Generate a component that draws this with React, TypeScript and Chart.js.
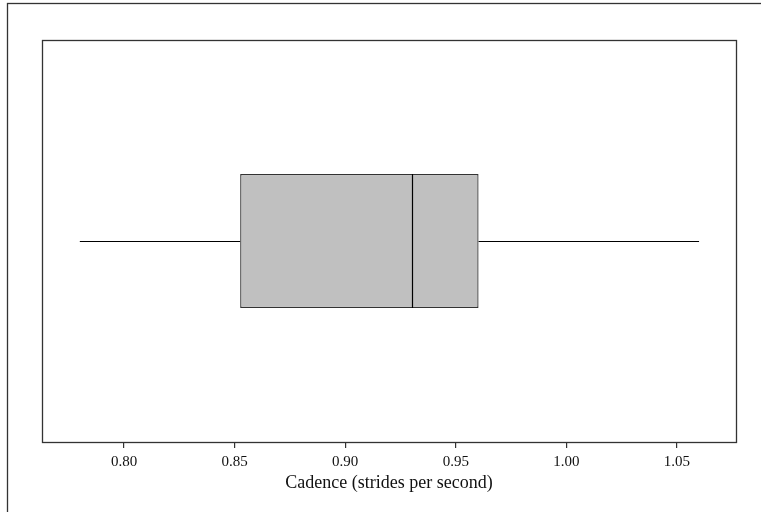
import { useEffect, useRef } from "react";
import { Chart, registerables } from "chart.js";

Chart.register(...registerables);

const categories = ["Cadence"];
const whiskerMin = [0.78];
const q1 = [0.8525];
const median = [0.93];
const q3 = [0.9603];
const whiskerMax = [1.06];
const tickValues = [0.8, 0.85, 0.9, 0.95, 1.0, 1.05];
const axisMin = 0.7629;
const axisMax = 1.0767;
const axisTitle = "Cadence (strides per second)";

const FONT = "'Liberation Serif', 'Times New Roman', serif";

const boxExtras = {
  id: "boxExtras",
  beforeDraw(chart: any) {
    const ctx = chart.ctx;
    ctx.save();
    ctx.strokeStyle = "#333";
    ctx.lineWidth = 1.3;
    ctx.strokeRect(7.5, 3.5, 800, 600);
    ctx.restore();
  },
  afterDatasetsDraw(chart: any) {
    const ctx = chart.ctx;
    const xs = chart.scales.x;
    const meta = chart.getDatasetMeta(0);
    ctx.save();
    meta.data.forEach((el: any, i: number) => {
      const { y, height } = el.getProps(["y", "height"], true);
      const top = y - height / 2;
      const bot = y + height / 2;
      const yy = Math.round(y) + 0.5;
      ctx.strokeStyle = "#000";
      ctx.lineWidth = 1.2;
      ctx.beginPath();
      ctx.moveTo(xs.getPixelForValue(whiskerMin[i]), yy);
      ctx.lineTo(xs.getPixelForValue(q1[i]), yy);
      ctx.moveTo(xs.getPixelForValue(q3[i]), yy);
      ctx.lineTo(xs.getPixelForValue(whiskerMax[i]), yy);
      const mx = Math.round(xs.getPixelForValue(median[i])) + 0.5;
      ctx.moveTo(mx, top);
      ctx.lineTo(mx, bot);
      ctx.stroke();
    });
    const a = chart.chartArea;
    ctx.strokeStyle = "#333";
    ctx.lineWidth = 1.3;
    ctx.strokeRect(a.left + 0.5, a.top + 0.5, a.right - a.left, a.bottom - a.top);
    ctx.restore();
  },
};

export default function App() {
  const ref = useRef<HTMLCanvasElement>(null);
  useEffect(() => {
    if (!ref.current) return;
    const chart = new Chart(ref.current, {
      type: "bar",
      data: {
        labels: categories,
        datasets: [
          {
            data: categories.map((_, i) => [q1[i], q3[i]]) as any,
            backgroundColor: "#c0c0c0",
            borderColor: "#333",
            borderWidth: 1.3,
            borderSkipped: false,
            barPercentage: 1 / 3,
            categoryPercentage: 1,
          },
        ],
      },
      options: {
        indexAxis: "y",
        responsive: false,
        animation: false,
        layout: { padding: { left: 42, top: 40, right: 25, bottom: 0 } },
        plugins: { legend: { display: false }, tooltip: { enabled: false } },
        scales: {
          y: { display: false },
          x: {
            type: "linear",
            min: axisMin,
            max: axisMax,
            afterBuildTicks: (s: any) => {
              s.ticks = tickValues.map((v) => ({ value: v }));
            },
            afterFit: (s: any) => {
              s.height = 70;
            },
            border: { display: false },
            grid: {
              drawOnChartArea: false,
              drawTicks: true,
              tickLength: 6,
              lineWidth: 1.2,
              color: "#333",
            },
            ticks: {
              color: "#111",
              padding: 5,
              maxRotation: 0,
              font: { family: FONT, size: 15 },
              callback: (v: any) => Number(v).toFixed(2),
            },
            title: {
              display: true,
              text: axisTitle,
              color: "#111",
              font: { family: FONT, size: 18 },
              padding: { top: 0, bottom: 18 },
            },
          },
        },
      },
      plugins: [boxExtras],
    });
    return () => chart.destroy();
  }, []);
  return (
    <div style={{ position: "absolute", left: 0, top: 0, width: 761, height: 512, background: "#fff" }}>
      <canvas ref={ref} width={761} height={512} style={{ display: "block" }} />
    </div>
  );
}
